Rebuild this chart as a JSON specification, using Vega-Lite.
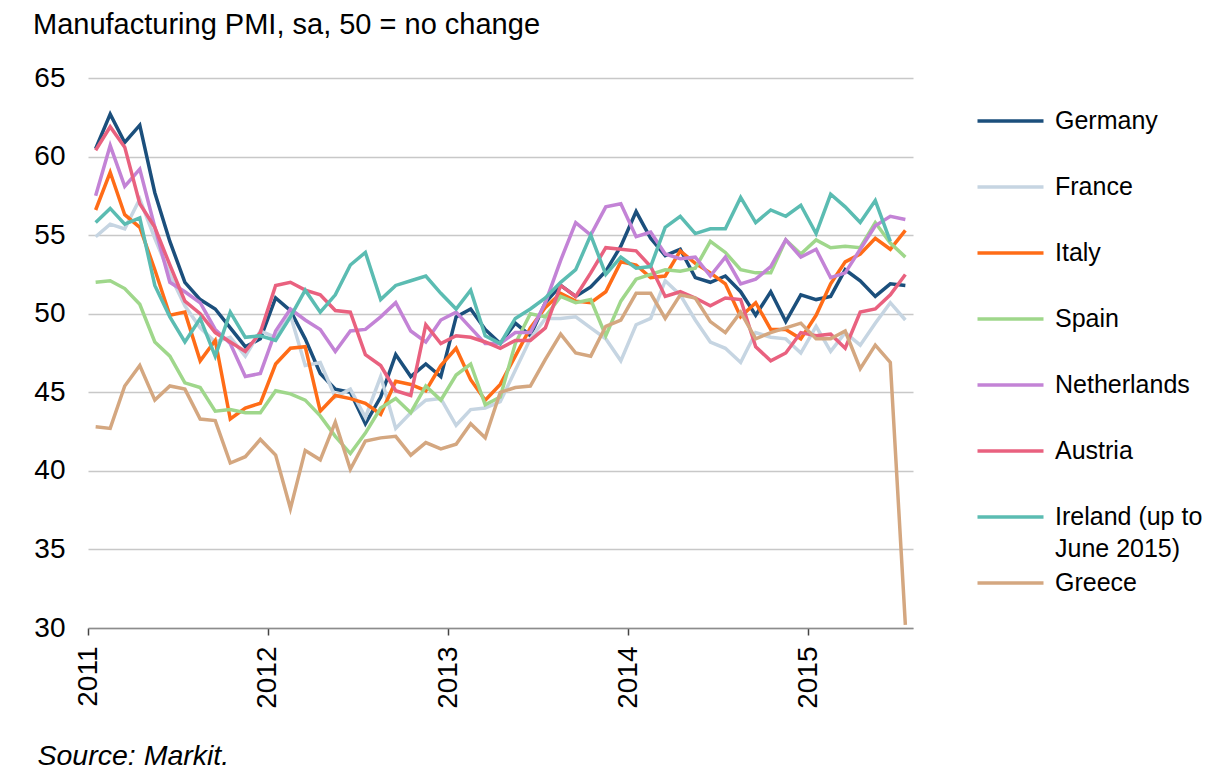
{
  "$schema": "https://vega.github.io/schema/vega-lite/v6.json",
  "width": 825,
  "height": 550,
  "autosize": {"type": "none"},
  "padding": {"left": 88, "top": 78, "right": 302, "bottom": 148},
  "background": "white",
  "config": {"font": "Liberation Sans", "view": {"stroke": null}},
  "title": {"text": "Manufacturing PMI, sa, 50 = no change", "anchor": "start", "frame": "group", "dx": -55, "offset": 24, "fontSize": 29, "fontWeight": "normal", "color": "#000"},
  "data": {"values": [
    {"m":"2011-01-01","Germany":60.5,"France":54.9,"Italy":56.6,"Spain":52.0,"Netherlands":57.5,"Austria":60.4,"Ireland":55.8,"Greece":42.8},
    {"m":"2011-02-01","Germany":62.7,"France":55.7,"Italy":59.0,"Spain":52.1,"Netherlands":60.7,"Austria":61.9,"Ireland":56.7,"Greece":42.7},
    {"m":"2011-03-01","Germany":60.9,"France":55.4,"Italy":56.3,"Spain":51.6,"Netherlands":58.1,"Austria":60.6,"Ireland":55.7,"Greece":45.4},
    {"m":"2011-04-01","Germany":62.0,"France":57.3,"Italy":55.5,"Spain":50.6,"Netherlands":59.2,"Austria":57.0,"Ireland":56.1,"Greece":46.7},
    {"m":"2011-05-01","Germany":57.7,"France":54.8,"Italy":52.8,"Spain":48.2,"Netherlands":55.5,"Austria":55.5,"Ireland":51.8,"Greece":44.5},
    {"m":"2011-06-01","Germany":54.6,"France":52.5,"Italy":49.9,"Spain":47.3,"Netherlands":52.0,"Austria":53.1,"Ireland":49.8,"Greece":45.4},
    {"m":"2011-07-01","Germany":52.0,"France":50.5,"Italy":50.1,"Spain":45.6,"Netherlands":51.4,"Austria":50.8,"Ireland":48.2,"Greece":45.2},
    {"m":"2011-08-01","Germany":50.9,"France":49.1,"Italy":47.0,"Spain":45.3,"Netherlands":50.7,"Austria":50.0,"Ireland":49.7,"Greece":43.3},
    {"m":"2011-09-01","Germany":50.3,"France":48.2,"Italy":48.3,"Spain":43.8,"Netherlands":49.0,"Austria":48.8,"Ireland":47.3,"Greece":43.2},
    {"m":"2011-10-01","Germany":49.1,"France":48.5,"Italy":43.3,"Spain":43.9,"Netherlands":48.1,"Austria":48.2,"Ireland":50.1,"Greece":40.5},
    {"m":"2011-11-01","Germany":47.9,"France":47.3,"Italy":44.0,"Spain":43.7,"Netherlands":46.0,"Austria":47.6,"Ireland":48.5,"Greece":40.9},
    {"m":"2011-12-01","Germany":48.4,"France":48.9,"Italy":44.3,"Spain":43.7,"Netherlands":46.2,"Austria":48.8,"Ireland":48.6,"Greece":42.0},
    {"m":"2012-01-01","Germany":51.0,"France":48.5,"Italy":46.8,"Spain":45.1,"Netherlands":48.9,"Austria":51.8,"Ireland":48.3,"Greece":41.0},
    {"m":"2012-02-01","Germany":50.2,"France":49.9,"Italy":47.8,"Spain":44.9,"Netherlands":50.3,"Austria":52.0,"Ireland":49.8,"Greece":37.6},
    {"m":"2012-03-01","Germany":48.4,"France":46.7,"Italy":47.9,"Spain":44.5,"Netherlands":49.6,"Austria":51.5,"Ireland":51.5,"Greece":41.3},
    {"m":"2012-04-01","Germany":46.2,"France":46.9,"Italy":43.8,"Spain":43.5,"Netherlands":49.0,"Austria":51.2,"Ireland":50.1,"Greece":40.7},
    {"m":"2012-05-01","Germany":45.2,"France":44.7,"Italy":44.8,"Spain":42.2,"Netherlands":47.6,"Austria":50.2,"Ireland":51.2,"Greece":43.1},
    {"m":"2012-06-01","Germany":45.0,"France":45.2,"Italy":44.6,"Spain":41.1,"Netherlands":48.9,"Austria":50.1,"Ireland":53.1,"Greece":40.1},
    {"m":"2012-07-01","Germany":43.0,"France":43.4,"Italy":44.3,"Spain":42.4,"Netherlands":49.0,"Austria":47.4,"Ireland":53.9,"Greece":41.9},
    {"m":"2012-08-01","Germany":44.7,"France":46.0,"Italy":43.6,"Spain":44.0,"Netherlands":49.8,"Austria":46.7,"Ireland":50.9,"Greece":42.1},
    {"m":"2012-09-01","Germany":47.4,"France":42.7,"Italy":45.7,"Spain":44.6,"Netherlands":50.7,"Austria":45.1,"Ireland":51.8,"Greece":42.2},
    {"m":"2012-10-01","Germany":46.0,"France":43.7,"Italy":45.5,"Spain":43.7,"Netherlands":48.9,"Austria":44.8,"Ireland":52.1,"Greece":41.0},
    {"m":"2012-11-01","Germany":46.8,"France":44.5,"Italy":45.1,"Spain":45.4,"Netherlands":48.2,"Austria":49.3,"Ireland":52.4,"Greece":41.8},
    {"m":"2012-12-01","Germany":46.0,"France":44.6,"Italy":46.7,"Spain":44.5,"Netherlands":49.6,"Austria":48.1,"Ireland":51.3,"Greece":41.4},
    {"m":"2013-01-01","Germany":49.8,"France":42.9,"Italy":47.8,"Spain":46.1,"Netherlands":50.1,"Austria":48.6,"Ireland":50.3,"Greece":41.7},
    {"m":"2013-02-01","Germany":50.3,"France":43.9,"Italy":45.8,"Spain":46.8,"Netherlands":49.1,"Austria":48.5,"Ireland":51.5,"Greece":43.0},
    {"m":"2013-03-01","Germany":49.0,"France":44.0,"Italy":44.5,"Spain":44.2,"Netherlands":48.1,"Austria":48.2,"Ireland":48.6,"Greece":42.1},
    {"m":"2013-04-01","Germany":48.1,"France":44.4,"Italy":45.5,"Spain":44.7,"Netherlands":48.1,"Austria":47.8,"Ireland":48.1,"Greece":45.0},
    {"m":"2013-05-01","Germany":49.4,"France":46.4,"Italy":47.3,"Spain":48.1,"Netherlands":48.8,"Austria":48.3,"Ireland":49.7,"Greece":45.3},
    {"m":"2013-06-01","Germany":48.6,"France":48.4,"Italy":49.1,"Spain":50.0,"Netherlands":48.8,"Austria":48.3,"Ireland":50.3,"Greece":45.4},
    {"m":"2013-07-01","Germany":50.7,"France":49.7,"Italy":50.4,"Spain":49.8,"Netherlands":50.7,"Austria":49.1,"Ireland":51.0,"Greece":47.1},
    {"m":"2013-08-01","Germany":51.8,"France":49.7,"Italy":51.3,"Spain":51.1,"Netherlands":53.4,"Austria":51.8,"Ireland":52.0,"Greece":48.7},
    {"m":"2013-09-01","Germany":51.1,"France":49.8,"Italy":50.8,"Spain":50.7,"Netherlands":55.8,"Austria":51.1,"Ireland":52.8,"Greece":47.5},
    {"m":"2013-10-01","Germany":51.7,"France":49.1,"Italy":50.7,"Spain":50.9,"Netherlands":55.0,"Austria":52.6,"Ireland":55.0,"Greece":47.3},
    {"m":"2013-11-01","Germany":52.7,"France":48.4,"Italy":51.4,"Spain":48.6,"Netherlands":56.8,"Austria":54.2,"Ireland":52.5,"Greece":49.2},
    {"m":"2013-12-01","Germany":54.3,"France":47.0,"Italy":53.3,"Spain":50.8,"Netherlands":57.0,"Austria":54.1,"Ireland":53.6,"Greece":49.6},
    {"m":"2014-01-01","Germany":56.5,"France":49.3,"Italy":53.1,"Spain":52.2,"Netherlands":54.9,"Austria":54.0,"Ireland":52.9,"Greece":51.3},
    {"m":"2014-02-01","Germany":54.8,"France":49.7,"Italy":52.3,"Spain":52.5,"Netherlands":55.2,"Austria":53.0,"Ireland":53.0,"Greece":51.3},
    {"m":"2014-03-01","Germany":53.7,"France":52.1,"Italy":52.4,"Spain":52.8,"Netherlands":53.8,"Austria":51.1,"Ireland":55.5,"Greece":49.7},
    {"m":"2014-04-01","Germany":54.1,"France":51.2,"Italy":54.0,"Spain":52.7,"Netherlands":53.5,"Austria":51.4,"Ireland":56.2,"Greece":51.2},
    {"m":"2014-05-01","Germany":52.3,"France":49.6,"Italy":53.2,"Spain":52.9,"Netherlands":53.6,"Austria":51.0,"Ireland":55.1,"Greece":51.0},
    {"m":"2014-06-01","Germany":52.0,"France":48.2,"Italy":52.6,"Spain":54.6,"Netherlands":52.4,"Austria":50.5,"Ireland":55.4,"Greece":49.5},
    {"m":"2014-07-01","Germany":52.4,"France":47.8,"Italy":51.9,"Spain":53.9,"Netherlands":53.6,"Austria":51.0,"Ireland":55.4,"Greece":48.8},
    {"m":"2014-08-01","Germany":51.4,"France":46.9,"Italy":49.8,"Spain":52.8,"Netherlands":51.9,"Austria":50.9,"Ireland":57.4,"Greece":50.1},
    {"m":"2014-09-01","Germany":49.9,"France":48.8,"Italy":50.7,"Spain":52.6,"Netherlands":52.2,"Austria":47.9,"Ireland":55.8,"Greece":48.4},
    {"m":"2014-10-01","Germany":51.4,"France":48.5,"Italy":49.0,"Spain":52.6,"Netherlands":53.0,"Austria":47.0,"Ireland":56.6,"Greece":48.8},
    {"m":"2014-11-01","Germany":49.5,"France":48.4,"Italy":49.0,"Spain":54.7,"Netherlands":54.7,"Austria":47.5,"Ireland":56.2,"Greece":49.1},
    {"m":"2014-12-01","Germany":51.2,"France":47.5,"Italy":48.4,"Spain":53.8,"Netherlands":53.6,"Austria":48.8,"Ireland":56.9,"Greece":49.4},
    {"m":"2015-01-01","Germany":50.9,"France":49.2,"Italy":49.9,"Spain":54.7,"Netherlands":54.1,"Austria":48.6,"Ireland":55.1,"Greece":48.4},
    {"m":"2015-02-01","Germany":51.1,"France":47.6,"Italy":51.9,"Spain":54.2,"Netherlands":52.3,"Austria":48.7,"Ireland":57.6,"Greece":48.4},
    {"m":"2015-03-01","Germany":52.8,"France":48.8,"Italy":53.3,"Spain":54.3,"Netherlands":52.6,"Austria":47.8,"Ireland":56.8,"Greece":48.9},
    {"m":"2015-04-01","Germany":52.1,"France":48.0,"Italy":53.8,"Spain":54.2,"Netherlands":54.1,"Austria":50.1,"Ireland":55.8,"Greece":46.5},
    {"m":"2015-05-01","Germany":51.1,"France":49.4,"Italy":54.8,"Spain":55.8,"Netherlands":55.6,"Austria":50.3,"Ireland":57.2,"Greece":48.0},
    {"m":"2015-06-01","Germany":51.9,"France":50.7,"Italy":54.1,"Spain":54.5,"Netherlands":56.2,"Austria":51.2,"Ireland":54.6,"Greece":46.9},
    {"m":"2015-07-01","Germany":51.8,"France":49.6,"Italy":55.3,"Spain":53.6,"Netherlands":56.0,"Austria":52.5,"Ireland":null,"Greece":30.2}
  ]},
  "transform": [
    {"fold": ["Germany","France","Italy","Spain","Netherlands","Austria","Ireland","Greece"], "as": ["country","pmi"]}
  ],
  "mark": {"type": "line", "strokeWidth": 3.5},
  "encoding": {
    "x": {
      "field": "m", "timeUnit": "utcyearmonth", "type": "temporal", "bandPosition": 0.5,
      "scale": {"domain": [{"year": 2011, "month": 1, "date": 1, "utc": true}, {"year": 2015, "month": 8, "date": 1, "utc": true}]},
      "axis": {
        "values": [{"year": 2011, "month": 1, "date": 1, "utc": true}, {"year": 2012, "month": 1, "date": 1, "utc": true}, {"year": 2013, "month": 1, "date": 1, "utc": true}, {"year": 2014, "month": 1, "date": 1, "utc": true}, {"year": 2015, "month": 1, "date": 1, "utc": true}],
        "labelExpr": "utcFormat(datum.value, '%Y')",
        "labelAngle": 270, "labelFontSize": 28, "labelColor": "#000", "labelPadding": 11, "labelDy": 7,
        "tickSize": 7, "tickColor": "#444", "tickWidth": 1.5,
        "domainColor": "#8c8c8c", "domainWidth": 1.5, "grid": false,
        "title": "Source: Markit.", "titleFontStyle": "italic", "titleFontWeight": "normal", "titleFontSize": 28.5, "titleColor": "#000",
        "titleAnchor": "start", "titleAlign": "left", "titleAngle": 0, "titleX": -51, "titleY": 127, "titleBaseline": "middle"
      }
    },
    "y": {
      "field": "pmi", "type": "quantitative",
      "scale": {"domain": [30, 65], "nice": false, "zero": false},
      "axis": {"values": [30, 35, 40, 45, 50, 55, 60, 65], "title": null, "domain": false, "ticks": false, "labelFontSize": 28, "labelPadding": 23, "labelColor": "#000", "gridColor": "#c8c8c8", "gridWidth": 1.5}
    },
    "color": {
      "field": "country", "type": "nominal",
      "scale": {
        "domain": ["Germany","France","Italy","Spain","Netherlands","Austria","Ireland","Greece"],
        "range": ["#1b4f7c","#c6d5e2","#ff6c17","#9fd78b","#c383d6","#e9617f","#5bbcb2","#d4a780"]
      },
      "legend": {
        "title": null, "orient": "right", "offset": 37.5, "padding": 24.5,
        "symbolType": "M-2,0H2", "symbolSize": 1089, "symbolStrokeWidth": 3.5, "symbolOffset": 16.5,
        "labelFontSize": 25, "labelColor": "#000", "labelOffset": 26, "labelLimit": 300, "rowPadding": 2,
        "labelExpr": "datum.label == 'Ireland' ? ['Ireland (up to', 'June 2015)'] : [datum.label, '']",
        "encode": {"labels": {"update": {"lineHeight": {"value": 32}}}}
      }
    }
  }
}
